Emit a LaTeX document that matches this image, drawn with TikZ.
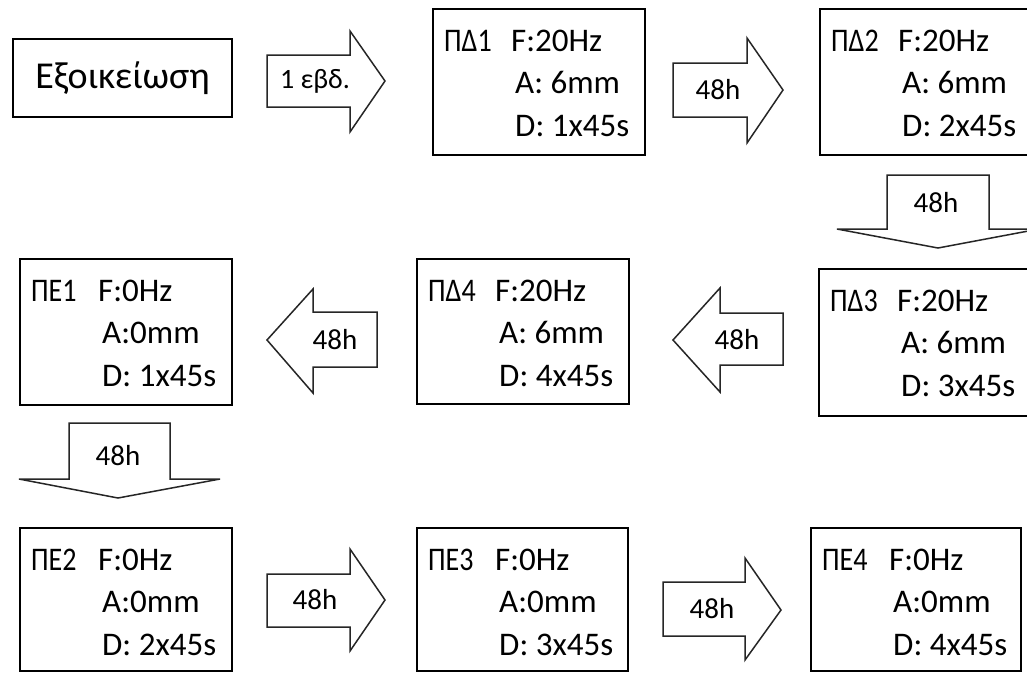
\documentclass[tikz,border=0pt]{standalone}
\usepackage{fontspec}
\setmainfont{Carlito}
\tikzset{
  box/.style={draw=black, line width=2pt, fill=white, inner sep=0pt, anchor=north west},
  blk/.style={draw=black!85, line width=1.5pt, fill=white, line join=miter},
  lbl/.style={font=\fontsize{33}{33}\selectfont, anchor=base west, inner sep=0pt},
  hlbl/.style={font=\fontsize{29}{29}\selectfont, inner sep=0pt},
}
% name, x, y, w, h, label, F, A, D
\newcommand\stg[9]{%
  \node[box, minimum width=#4pt, minimum height=#5pt] (#1) at (#2,#3) {};
  \node[lbl] (#1l) at ([xshift=12pt,yshift=-43pt]#1.north west) {\scalebox{0.85}[1]{#6}};
  \node[lbl] (#1f) at ([xshift=79pt,yshift=-43pt]#1.north west) {#7};
  \node[lbl] (#1a) at ([xshift=83pt,yshift=-85pt]#1.north west) {#8};
  \node[lbl] (#1d) at ([xshift=83pt,yshift=-128pt]#1.north west) {#9};
}
\begin{document}
\begin{tikzpicture}[x=1pt,y=-1pt]
\useasboundingbox (0,0) rectangle (1027,673);
\clip (0,0) rectangle (1027,673);
\fill[white] (0,0) rectangle (1027,673);

% start box
\node[box, minimum width=219pt, minimum height=78pt] (fam) at (12,38) {};
\node[font=\fontsize{38}{38}\selectfont, inner sep=0pt] (famt) at (fam.center) {Εξοικείωση};

% stage boxes
\stg{pd1}{432}{8}{212}{146}{ΠΔ1}{F:20Hz}{A: 6mm}{D: 1x45s}
\stg{pd2}{819}{8}{212}{146}{ΠΔ2}{F:20Hz}{A: 6mm}{D: 2x45s}
\stg{pd3}{818}{268}{212}{147}{ΠΔ3}{F:20Hz}{A: 6mm}{D: 3x45s}
\stg{pd4}{416}{258}{212}{145}{ΠΔ4}{F:20Hz}{A: 6mm}{D: 4x45s}
\stg{pe1}{19}{258}{212}{146}{ΠΕ1}{F:0Hz}{A:0mm}{D: 1x45s}
\stg{pe2}{19}{527}{212}{143}{ΠΕ2}{F:0Hz}{A:0mm}{D: 2x45s}
\stg{pe3}{416}{527}{211}{143}{ΠΕ3}{F:0Hz}{A:0mm}{D: 3x45s}
\stg{pe4}{810}{527}{210}{143}{ΠΕ4}{F:0Hz}{A:0mm}{D: 4x45s}

% block arrows
\draw[blk] (267,55) -- (350,55) -- (350,31) -- (385,81) -- (350,132) -- (350,107) -- (267,107) -- cycle;
\node[font=\fontsize{28}{28}\selectfont, inner sep=0pt] (a1) at (315,81) {1 εβδ.};

\draw[blk] (673,63) -- (747,63) -- (747,38) -- (783,90) -- (747,143) -- (747,117) -- (673,117) -- cycle;
\node[hlbl] (a2) at (718,90) {48h};

\draw[blk] (887,175) -- (989,175) -- (989,229) -- (1039,229) -- (938,248) -- (837,229) -- (887,229) -- cycle;
\node[hlbl] (a3) at (936,203) {48h};

\draw[blk] (783,313) -- (720,313) -- (720,288) -- (673,340) -- (720,392) -- (720,365) -- (783,365) -- cycle;
\node[hlbl] (a4) at (737,340) {48h};

\draw[blk] (377,312) -- (313,312) -- (313,289) -- (267,340) -- (313,393) -- (313,367) -- (377,367) -- cycle;
\node[hlbl] (a5) at (335,340) {48h};

\draw[blk] (69,423) -- (170,423) -- (170,479) -- (220,479) -- (118,498) -- (19,479) -- (69,479) -- cycle;
\node[hlbl] (a6) at (118,456) {48h};

\draw[blk] (267,574) -- (350,574) -- (350,549) -- (385,600) -- (350,651) -- (350,627) -- (267,627) -- cycle;
\node[hlbl] (a7) at (315,600) {48h};

\draw[blk] (663,582) -- (745,582) -- (745,558) -- (781,610) -- (745,660) -- (745,636) -- (663,636) -- cycle;
\node[hlbl] (a8) at (712,609) {48h};
\end{tikzpicture}
\end{document}
